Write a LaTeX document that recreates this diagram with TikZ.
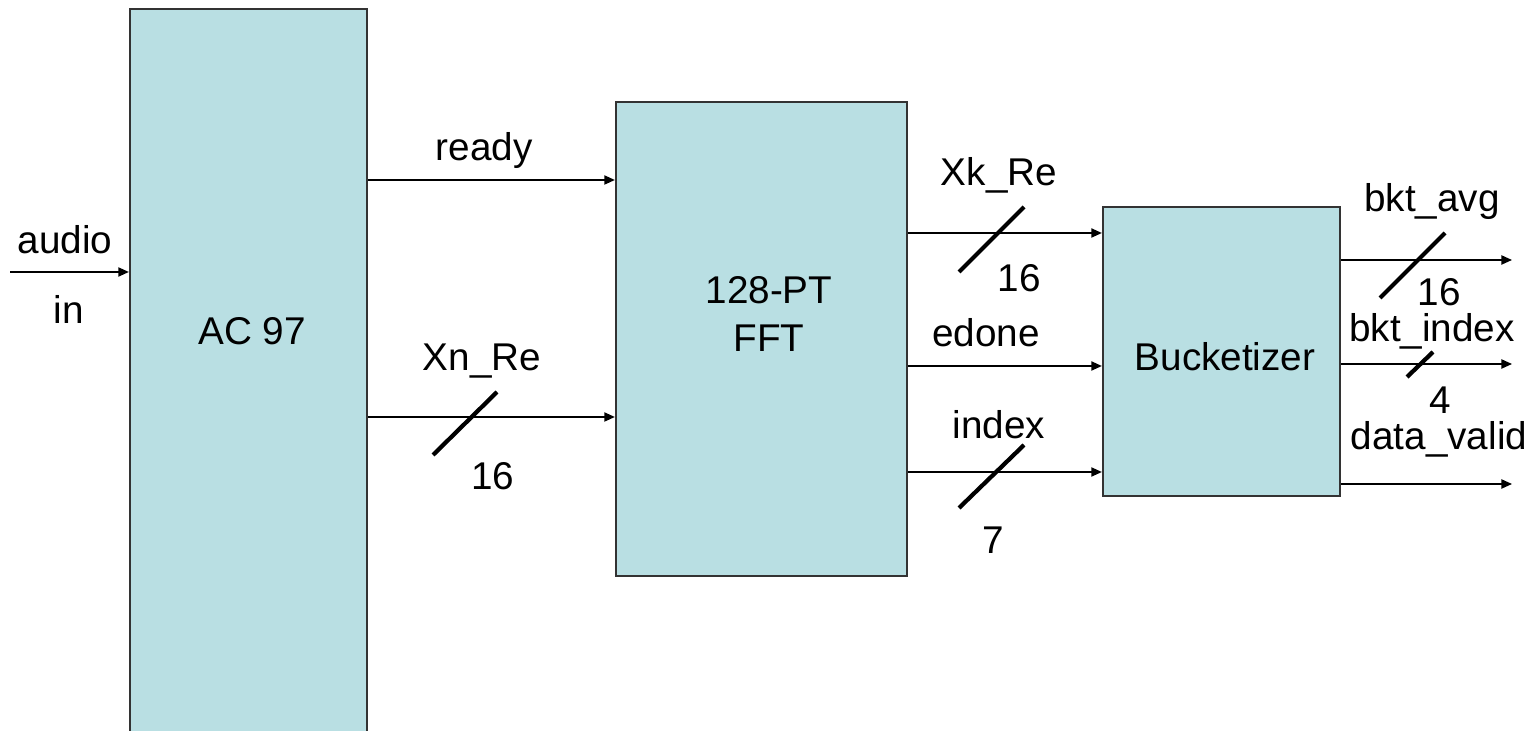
\documentclass[tikz,border=0pt]{standalone}
\usepackage{fontspec}
\setmainfont{Liberation Sans}
\usetikzlibrary{positioning}
\usetikzlibrary{arrows.meta}
\definecolor{boxblue}{RGB}{185,223,227}

\begin{document}
\begin{tikzpicture}[x=0.01cm, y=-0.01cm,
		b/.style = {rectangle, draw=black!80, fill=boxblue, line width=0.6pt},
		l/.style = {font=\fontsize{11}{13.4}\selectfont, inner sep=0pt},
		r/.style = {-{Triangle[length=3pt, width=2.6pt]}, line width=0.45pt},
		s/.style = {line width=1.2pt}
		]
		\useasboundingbox (0,0) rectangle (1536,731);

		%Nodes
		\node[b, minimum width=2.37cm, minimum height=7.40cm]	(ac)	at	(248.5,379)	{};
		\node[b, minimum width=2.91cm, minimum height=4.74cm]	(fft)	at	(761.5,339)	{};
		\node[b, minimum width=2.37cm, minimum height=2.89cm]	(bkt)	at	(1221.5,351.5)	{};
		\node[l]	(acl)	at	(252,331)	{AC 97};
		\node[l, align=center]	(fftl)	at	(769,314)	{128-PT\\FFT};
		\node[l]	(bktl)	at	(1225,357)	{Bucketizer};

		\coordinate	(ain)	at	(10,272);
		\coordinate	(o1)	at	(1512,260);
		\coordinate	(o2)	at	(1512,364);
		\coordinate	(o3)	at	(1512,484);

		%Labels
		\node[l]	(audio)	at	(65,240)	{audio};
		\node[l]	(in)	at	(69,309)	{in};
		\node[l]	(rdy)	at	(484,151)	{ready};
		\node[l]	(xn)	at	(482,361)	{Xn\_Re};
		\node[l]	(xnw)	at	(493,476)	{16};
		\node[l]	(xk)	at	(999,175)	{Xk\_Re};
		\node[l]	(xkw)	at	(1019,278)	{16};
		\node[l]	(edone)	at	(986,333)	{edone};
		\node[l]	(idx)	at	(999,425)	{index};
		\node[l]	(idxw)	at	(993,540)	{7};
		\node[l]	(avg)	at	(1432,202)	{bkt\_avg};
		\node[l]	(avgw)	at	(1439,292)	{16};
		\node[l]	(bidx)	at	(1432,331)	{bkt\_index};
		\node[l]	(bidxw)	at	(1440,400)	{4};
		\node[l]	(dv)	at	(1439,439)	{data\_valid};

		%Lines
		\draw[r]	(ain)	--	(ain -| ac.west);
		\draw[r]	(ac.east |- 0,180)	--	(fft.west |- 0,180);
		\draw[r]	(ac.east |- 0,417)	--	(fft.west |- 0,417);
		\draw[r]	(fft.east |- 0,233)	--	(bkt.west |- 0,233);
		\draw[r]	(fft.east |- 0,366)	--	(bkt.west |- 0,366);
		\draw[r]	(fft.east |- 0,472)	--	(bkt.west |- 0,472);
		\draw[r]	(bkt.east |- o1)	--	(o1);
		\draw[r]	(bkt.east |- o2)	--	(o2);
		\draw[r]	(bkt.east |- o3)	--	(o3);

		%Bus slashes
		\draw[s]	(433,455)	--	(497,392);
		\draw[s]	(959,272)	--	(1024,207);
		\draw[s]	(959,508)	--	(1024,445);
		\draw[s]	(1380,298)	--	(1445,233);
		\draw[s]	(1407,377)	--	(1433,352);
	\end{tikzpicture}
\end{document}
